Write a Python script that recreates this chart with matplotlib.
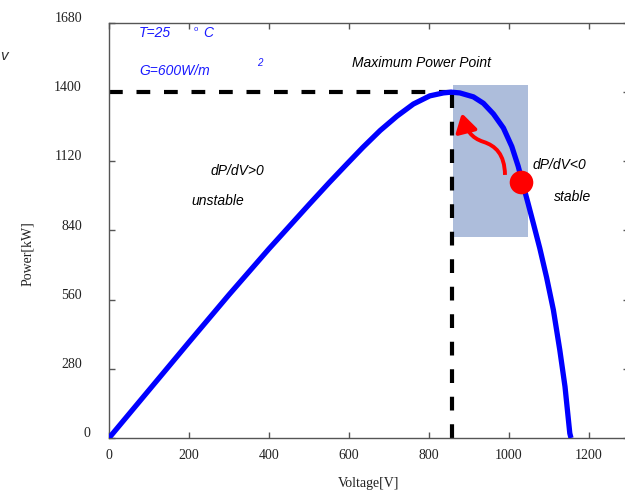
import matplotlib
matplotlib.use("Agg")
import matplotlib.pyplot as plt
from matplotlib.patches import Rectangle, FancyArrowPatch
from matplotlib.path import Path
from matplotlib.transforms import ScaledTranslation

# P-V curve
voltage = [0, 100, 200, 300, 400, 500, 550, 594, 635, 678, 720, 761, 802, 836,
           855, 877, 911, 936, 961, 986, 1007, 1023, 1036, 1048, 1061, 1077,
           1094, 1111, 1127, 1140, 1152, 1155]
power = [0, 194, 388, 580, 766, 945, 1033, 1108, 1177, 1245, 1303, 1352, 1385,
         1397, 1400, 1397, 1381, 1355, 1312, 1255, 1180, 1100, 1020, 948, 868,
         768, 650, 518, 356, 208, 19, 0]

v_mpp = 857
p_mpp = 1400
op_point = (1029, 1036)
stable_zone = (860, 1047, 814, 1429)  # v0, v1, p0, p1

x_ticks = [0, 200, 400, 600, 800, 1000, 1200]
y_ticks = [0, 280, 560, 840, 1120, 1400, 1680]

serif = "Liberation Serif"
sans = "Liberation Sans"

fig = plt.figure(figsize=(6.25, 4.94), dpi=100)
ax = fig.add_axes([109 / 625, 56 / 494, 520 / 625, 415 / 494])
ax.set_xlim(0, 1300)
ax.set_ylim(0, 1680)

# shaded stable region
v0, v1, p0, p1 = stable_zone
ax.add_patch(Rectangle((v0, p0), v1 - v0, p1 - p0, facecolor="#adbddb",
                       edgecolor="none", zorder=1))

# MPP guides
ax.plot([0, v_mpp], [p_mpp, p_mpp], color="black", lw=3, ls=(0, (3.3, 3.3)), zorder=2)
ax.plot([v_mpp, v_mpp], [0, p_mpp], color="black", lw=3, ls=(0, (3.3, 3.3)), zorder=2)

ax.plot(voltage, power, color="#0000ff", lw=3.8, solid_joinstyle="round",
        solid_capstyle="butt", zorder=3)

ax.plot(*op_point, "o", color="#ff0000", ms=17, mec="none", zorder=4)

# curly red arrow pushing the operating point back towards the MPP
verts = [(990, 1065), (989, 1150), (966, 1183), (936, 1199),
         (906, 1215), (893, 1245), (882, 1315)]
codes = [Path.MOVETO] + [Path.CURVE4] * 6
arrow = FancyArrowPatch(path=Path(verts, codes),
                        arrowstyle="-|>,head_length=0.5,head_width=0.3",
                        mutation_scale=22, color="#ff0000", lw=2.8,
                        joinstyle="round", capstyle="butt", zorder=4)
ax.add_patch(arrow)

# annotations
blue = "#1a1aff"
ax.text(75, 1640, "T=25", color=blue, style="italic", family=sans, fontsize=10, va="center")
ax.text(212, 1655, "o", color=blue, family=sans, fontsize=5.5, va="center")
ax.text(235, 1640, "C", color=blue, style="italic", family=sans, fontsize=10, va="center")
ax.text(75, 1486, "G=600W/m", color=blue, style="italic", family=sans, fontsize=10, va="center")
ax.text(370, 1518, "2", color=blue, style="italic", family=sans, fontsize=7, va="center")

ax.text(780, 1518, "Maximum Power Point", style="italic", family=sans, fontsize=10,
        ha="center", va="center")
ax.text(322, 1081, "dP/dV>0", style="italic", family=sans, fontsize=10, ha="center", va="center")
ax.text(272, 960, "unstable", style="italic", family=sans, fontsize=10, ha="center", va="center")
ax.text(1127, 1105, "dP/dV<0", style="italic", family=sans, fontsize=10, ha="center", va="center")
ax.text(1160, 976, "stable", style="italic", family=sans, fontsize=10, ha="center", va="center")

# axes styling
for s in ax.spines.values():
    s.set_color("#555555")
    s.set_linewidth(1)
ax.set_xticks(x_ticks)
ax.set_yticks(y_ticks)
ax.tick_params(direction="in", length=4, width=1, color="#555555",
               top=True, right=True, labelsize=10, labelcolor="#222222")
ax.tick_params(axis="x", pad=8)
ax.tick_params(axis="y", pad=19.5)
for lab in ax.get_xticklabels() + ax.get_yticklabels():
    lab.set_family(serif)
for lab in ax.get_yticklabels():
    dx = 8 / 100 if lab.get_text() == "0" else 0
    lab.set_transform(lab.get_transform() + ScaledTranslation(dx, 6 / 100, fig.dpi_scale_trans))

ax.set_xlabel("Voltage[V]", family=serif, fontsize=10, color="#222222", labelpad=11)
fig.text(28 / 625, 1 - 254 / 494, "Power[kW]", family=serif, fontsize=10, color="#222222",
         rotation=90, ha="center", va="center")

# glyph at the left edge (cut off in the source image)
fig.text(0.001, 1 - 56 / 494, "v", style="italic", family=sans, fontsize=11,
         color="#333333", va="center")

fig.savefig("out.png", dpi=100)
